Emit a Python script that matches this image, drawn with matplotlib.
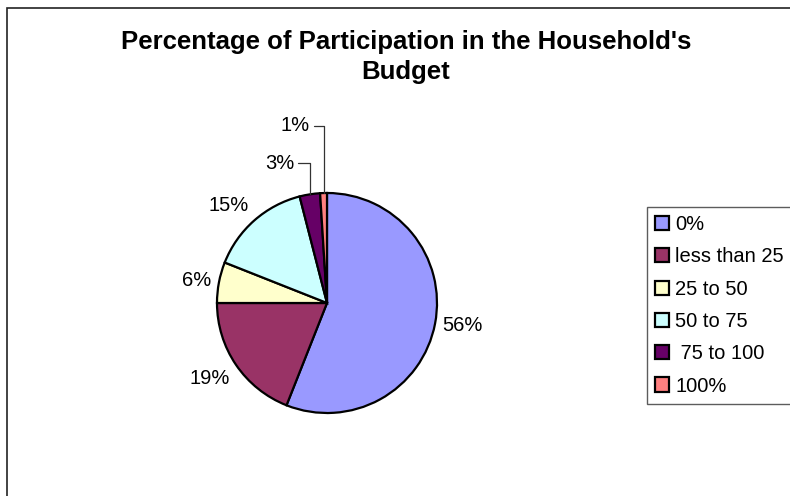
import numpy as np
import matplotlib
matplotlib.use("Agg")
import matplotlib.pyplot as plt
from matplotlib.patches import Rectangle

categories = ["0%", "less than 25", "25 to 50", "50 to 75", " 75 to 100", "100%"]
shares = [56, 19, 6, 15, 3, 1]
colors = ["#9999FF", "#993366", "#FFFFCC", "#CCFFFF", "#660066", "#FF8080"]
title = "Percentage of Participation in the Household's\nBudget"

# small slices get a callout label placed above the pie
callouts = {4: (-0.3, 1.27), 5: (-0.155, 1.61)}

plt.rcParams["font.family"] = ["Liberation Sans", "DejaVu Sans"]

W, H = 790, 496
fig = plt.figure(figsize=(W / 100, H / 100), dpi=100)

# chart area border (cut off on right and bottom like the source)
fig.patches.append(Rectangle((7 / W, -0.1), 1.2, (H - 8) / H + 0.1,
                             transform=fig.transFigure, fill=False,
                             edgecolor="#222222", linewidth=1.2))

fig.text(406 / W, 1 - 57 / H, title, ha="center", va="center",
         fontsize=18.5, fontweight="bold", linespacing=1.35)

# pie centre at (327, 303) px, radius 110 px
cx, cy, r_px, half = 327, 303, 110, 150
ax = fig.add_axes([(cx - half) / W, (H - cy - half) / H, 2 * half / W, 2 * half / H])

wedges, _ = ax.pie(shares, colors=colors, startangle=90, counterclock=False,
                   radius=1.0, wedgeprops=dict(edgecolor="black", linewidth=1.6))

lim = half / r_px
ax.set_xlim(-lim, lim)
ax.set_ylim(-lim, lim)
ax.set_aspect("equal")
ax.axis("off")

for i, (w, v) in enumerate(zip(wedges, shares)):
    ang = np.deg2rad((w.theta1 + w.theta2) / 2)
    ex, ey = np.cos(ang), np.sin(ang)
    label = f"{v}%"
    if i in callouts:
        tx, ty = callouts[i]
        ax.annotate(label, xy=(ex, ey), xytext=(tx, ty), ha="right", va="center",
                    fontsize=14.5,
                    arrowprops=dict(arrowstyle="-", color="#333333", lw=0.9,
                                    shrinkA=1, shrinkB=0,
                                    connectionstyle="angle,angleA=0,angleB=90,rad=0"))
        continue
    d = 1.07
    ha = "left" if ex > 0 else "right"
    if ey > 0.3:
        va = "bottom"
    elif ey < -0.3:
        va = "top"
    else:
        va = "center"
    ax.text(d * ex, d * ey, label, ha=ha, va=va, fontsize=14.5)

leg = fig.legend(wedges, categories, loc="upper left",
                 bbox_to_anchor=(647 / W, 1 - 207 / H), fontsize=14.5,
                 frameon=True, fancybox=False, handlelength=0.7, handleheight=0.7,
                 handletextpad=0.3, labelspacing=0.66, borderpad=0.4,
                 borderaxespad=0)
leg.get_frame().set_edgecolor("#333333")
leg.get_frame().set_linewidth(1.0)

fig.savefig("out.png", dpi=100, facecolor="white")
